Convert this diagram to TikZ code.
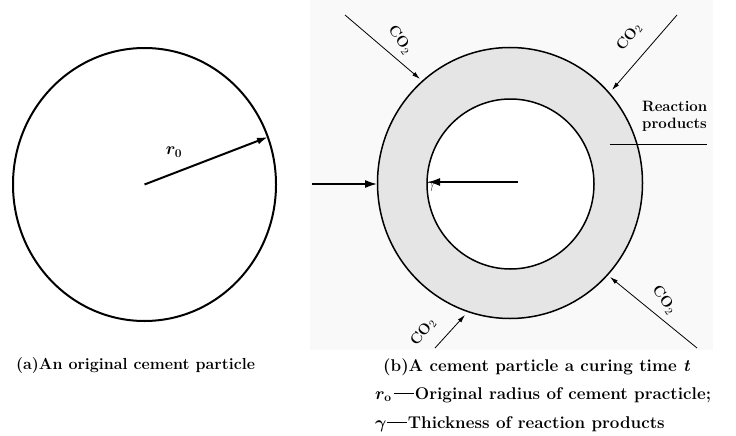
\documentclass[tikz,border=0pt]{standalone}
\usepackage{amsmath}
\usepackage{bm}
\usetikzlibrary{arrows.meta}
\begin{document}
\begin{tikzpicture}[x=1pt,y=-1pt,
  outline/.style={draw=black,line width=2pt},
  ringline/.style={draw=black,line width=1.5pt},
  thickarrow/.style={line width=1.6pt,-{Latex[length=12pt,width=8pt]}},
  gasarrow/.style={line width=0.8pt,-{Latex[length=8pt,width=4.5pt]}},
  gaslabel/.style={font=\bfseries\fontsize{15}{15}\selectfont,inner sep=0pt},
  caption/.style={font=\bfseries\fontsize{17}{17}\selectfont,anchor=west,inner sep=0pt},
  lbl/.style={font=\bfseries\fontsize{15}{17}\selectfont,inner sep=0pt}]
\useasboundingbox (0,0) rectangle (736,436);
\fill[white] (0,0) rectangle (736,436);
% faint background of figure (b)
\fill[black!2.5] (310,0) rectangle (713,350);

% (a) original particle
\coordinate (ca) at (144.5,184.5);
\draw[outline] (ca) ellipse [x radius=131.5, y radius=136.5];
\coordinate (ra) at (268,137);
\draw[line width=2pt,-{Latex[length=11pt,width=7pt]}] (ca) -- (ra);
\node[font=\fontsize{18}{18}\selectfont] (r0) at (174,152) {$\bm{r_0}$};

% (b) particle at curing time t
\coordinate (cb) at (510,183);
\coordinate (cbi) at (510.5,184);
\fill[black!10] (cb) ellipse [x radius=132.5, y radius=135.5];
\fill[white] (cbi) ellipse [x radius=83.5, y radius=85];
\draw[ringline] (cb) ellipse [x radius=132.5, y radius=135.5];
\draw[ringline] (cbi) ellipse [x radius=83.5, y radius=85];

% thickness arrows
\coordinate (tl0) at (312,184);
\coordinate (tl1) at (377,184);
\coordinate (tr0) at (518,182);
\coordinate (tr1) at (428,182);
\draw[thickarrow] (tl0) -- (tl1);
\draw[thickarrow] (tr0) -- (tr1);
\node[font=\fontsize{14}{14}\selectfont,inner sep=0pt] (gam) at (431,187) {$\gamma$};

% CO2 arrows
\coordinate (g1s) at (345,15);  \coordinate (g1e) at (420,79);
\coordinate (g2s) at (677,15);  \coordinate (g2e) at (612,90);
\coordinate (g3s) at (697,348); \coordinate (g3e) at (610,277);
\coordinate (g4s) at (435,348); \coordinate (g4e) at (465,315);
\draw[gasarrow] (g1s) -- (g1e);
\draw[gasarrow] (g2s) -- (g2e);
\draw[gasarrow] (g3s) -- (g3e);
\draw[gasarrow] (g4s) -- (g4e);
\node[gaslabel,rotate=-55] (co1) at (400,40) {CO$_2$};
\node[gaslabel,rotate=52] (co2) at (629,37) {CO$_2$};
\node[gaslabel,rotate=-55] (co3) at (664,300) {CO$_2$};
\node[gaslabel,rotate=52] (co4) at (423,332) {CO$_2$};

% reaction products label
\node[lbl,align=left,anchor=west] (rp) at (642,116) {Reaction\\products};
\coordinate (rl0) at (610,144);
\coordinate (rl1) at (707,144);
\draw[line width=0.8pt] (rl0) -- (rl1);

% captions
\node[caption,font=\bfseries\fontsize{16}{16}\selectfont] (capa) at (16,366) {(a)An original cement particle};
\node[caption] (capb) at (383,367) {(b)A cement particle a curing time \textit{t}};
\node[caption] (capc) at (375,395) {$\bm{r_{\mathrm o}}$\hspace{2pt}\rule[0.3em]{1.2em}{0.045em}\hspace{1pt}Original radius of cement practicle;};
\node[caption] (capd) at (375,424) {$\bm{\gamma}$\rule[0.3em]{1.2em}{0.045em}\hspace{1pt}Thickness of reaction products};
\end{tikzpicture}
\end{document}
